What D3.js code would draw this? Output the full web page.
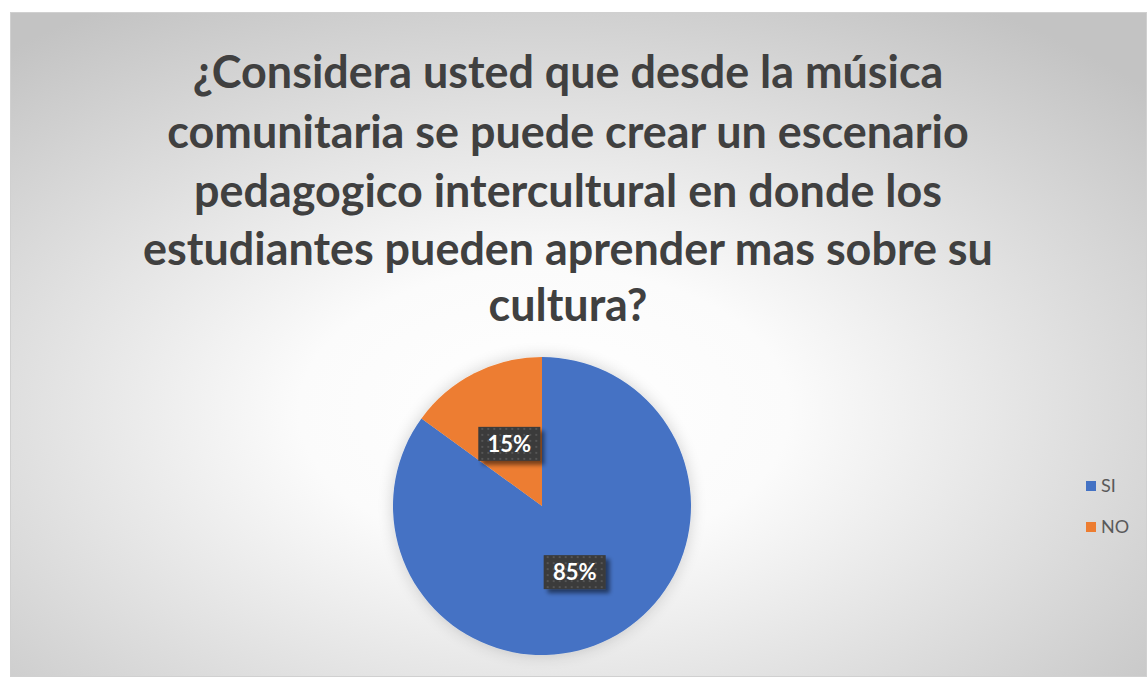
<!DOCTYPE html>
<html><head><meta charset="utf-8">
<script src="https://cdn.jsdelivr.net/npm/d3@7"></script>
<style>html,body{margin:0;padding:0;background:#fff;}svg{display:block;}</style>
</head><body>
<svg id="chart" width="1147" height="677"></svg>
<script>
const categories = ["SI", "NO"];
const values = [85, 15];
const colors = ["#4472C4", "#ED7D31"];
const titleLines = [
  "¿Considera usted que desde la música",
  "comunitaria se puede crear un escenario",
  "pedagogico intercultural en donde los",
  "estudiantes pueden aprender mas sobre su",
  "cultura?"
];

const FONT = "Lato, 'Open Sans', sans-serif";
const svg = d3.select("#chart");
const defs = svg.append("defs");
const rg = defs.append("radialGradient").attr("id","bg")
  .attr("cx","0.47").attr("cy","0.6").attr("r","0.72").attr("fx","0.47").attr("fy","0.6");
rg.append("stop").attr("offset","0").attr("stop-color","#ffffff");
rg.append("stop").attr("offset","0.3").attr("stop-color","#fbfbfb");
rg.append("stop").attr("offset","1").attr("stop-color","#c3c3c3");

const glow = defs.append("filter").attr("id","glow").attr("x","-30%").attr("y","-30%").attr("width","160%").attr("height","160%");
glow.append("feGaussianBlur").attr("in","SourceAlpha").attr("stdDeviation","8").attr("result","b");
glow.append("feComponentTransfer").attr("in","b").attr("result","c")
  .append("feFuncA").attr("type","linear").attr("slope","0.18");
const m = glow.append("feMerge");
m.append("feMergeNode").attr("in","c");
m.append("feMergeNode").attr("in","SourceGraphic");

const shadow = defs.append("filter").attr("id","lblshadow").attr("x","-20%").attr("y","-20%").attr("width","150%").attr("height","150%");
shadow.append("feGaussianBlur").attr("in","SourceAlpha").attr("stdDeviation","2").attr("result","b");
shadow.append("feOffset").attr("in","b").attr("dx","4").attr("dy","4").attr("result","o");
shadow.append("feComponentTransfer").attr("in","o").attr("result","c")
  .append("feFuncA").attr("type","linear").attr("slope","0.5");
const m2 = shadow.append("feMerge");
m2.append("feMergeNode").attr("in","c");
m2.append("feMergeNode").attr("in","SourceGraphic");

const pat = defs.append("pattern").attr("id","dots").attr("patternUnits","userSpaceOnUse")
  .attr("width",6).attr("height",6);
pat.append("rect").attr("width",6).attr("height",6).attr("fill","#3a3a3a");
pat.append("rect").attr("x",2).attr("y",2).attr("width",2).attr("height",2).attr("fill","#555555");

// chart area
svg.append("rect").attr("x",10.5).attr("y",12.5).attr("width",1136).attr("height",664)
  .attr("fill","url(#bg)").attr("stroke","#d0d0d0").attr("stroke-width",1);

// title
const title = svg.append("g");
const titleY = [72, 132, 191, 249, 305];
const targetW0 = 751;
titleLines.forEach((t,i)=>{
  title.append("text").attr("x",568).attr("y",titleY[i]).attr("dy","0.35em")
    .attr("text-anchor","middle").attr("font-family",FONT)
    .attr("font-weight","bold").attr("font-size",40).attr("fill","#404040").text(t);
});
const first = title.select("text").node();
const w = first.getComputedTextLength();
const fs = 40 * targetW0 / w;
title.selectAll("text").attr("font-size", fs);

// pie
const cx = 542, cy = 506, R = 149;
const pie = d3.pie().sort(null).value(d=>d)(values);
const arc = d3.arc().innerRadius(0).outerRadius(R);
const g = svg.append("g").attr("transform",`translate(${cx},${cy})`);
g.append("g").attr("filter","url(#glow)").selectAll("path").data(pie).enter().append("path")
  .attr("d",arc).attr("fill",(d,i)=>colors[i]);

const lblArc = d3.arc().innerRadius(72).outerRadius(72);
const lbl = g.selectAll("g.lbl").data(pie).enter().append("g").attr("class","lbl")
  .attr("transform",d=>{const c=lblArc.centroid(d);return `translate(${c[0]},${c[1]+2})`;});
lbl.append("rect").attr("x",-31).attr("y",-17).attr("width",62).attr("height",34)
  .attr("fill","url(#dots)").attr("filter","url(#lblshadow)");
lbl.append("text").attr("text-anchor","middle").attr("dy","0.36em")
  .attr("font-family",FONT).attr("font-weight","bold").attr("font-size",22)
  .attr("fill","#ffffff").text(d=>Math.round(d.data/d3.sum(values)*100)+"%");

// legend
const legY = d3.scalePoint().domain(categories).range([486, 527]);
const leg = svg.append("g").selectAll("g").data(categories).enter().append("g")
  .attr("transform",d=>`translate(1086,${legY(d)})`);
leg.append("rect").attr("x",0).attr("y",-5).attr("width",10).attr("height",10)
  .attr("fill",(d,i)=>colors[i]);
leg.append("text").attr("x",15).attr("dy","0.35em").attr("font-family",FONT)
  .attr("font-size",18).attr("fill","#595959").text(d=>d);
</script>
</body></html>
